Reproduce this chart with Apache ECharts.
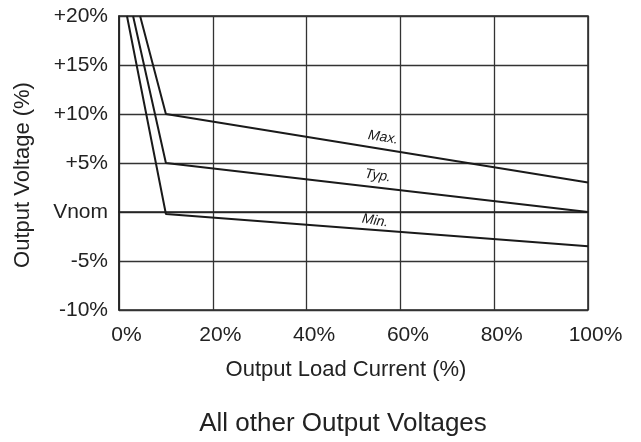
<!DOCTYPE html>
<html>
<head>
<meta charset="utf-8">
<script src="https://cdn.jsdelivr.net/npm/echarts@6/dist/echarts.min.js"></script>
<style>html,body{margin:0;padding:0;background:#fff}#c{width:641px;height:442px}</style>
</head>
<body>
<div id="c"></div>
<script>
// Data (x: output load current %, y: output voltage deviation %)
const maxLine = [[4.5, 20], [10, 10], [100, 3]];
const typLine = [[3, 20], [10, 5], [100, 0]];
const minLine = [[1.7, 20], [10, -0.2], [100, -3.5]];
// label anchors in data coordinates
const maxLabel = [56.3, 7.6];
const typLabel = [55.2, 3.7];
const minLabel = [54.6, -0.9];
const yTickText = {'20': '+20%', '15': '+15%', '10': '+10%', '5': '+5%', '0': 'Vnom', '-5': '-5%', '-10': '-10%'};
const xTickText = {'0': '0%', '20': '20%', '40': '40%', '60': '60%', '80': '80%', '100': '100%'};

const FONT = '"Liberation Sans", Arial, sans-serif';
const chart = echarts.init(document.getElementById('c'), null, {renderer: 'canvas'});

function lineSeries(name, data, lab) {
  return {
    name, type: 'line', data, symbol: 'none', z: 5,
    lineStyle: {color: '#1a1a1a', width: 2},
    markPoint: {
      symbol: 'circle', symbolSize: 0, silent: true,
      data: [{coord: lab, value: name}],
      label: {show: true, position: 'inside', formatter: name, rotate: -9,
        fontFamily: FONT, fontStyle: 'italic', fontSize: 14, color: '#1a1a1a'}
    }
  };
}

chart.setOption({
  animation: false,
  backgroundColor: '#fff',
  title: {
    text: 'All other Output Voltages', left: 338, top: 406, textAlign: 'center',
    textStyle: {fontFamily: FONT, fontSize: 26, fontWeight: 'normal', color: '#222'}
  },
  grid: {left: 119, right: 53, top: 16, bottom: 132, show: true, borderColor: '#222', borderWidth: 1.5},
  xAxis: {
    type: 'value', min: 0, max: 100, interval: 20,
    name: 'Output Load Current (%)', nameLocation: 'middle', nameGap: 49,
    nameTextStyle: {fontFamily: FONT, fontSize: 22, color: '#222', padding: [0, 15, 0, 0]},
    axisLine: {show: true, lineStyle: {color: '#222', width: 1.5}},
    axisTick: {show: false},
    axisLabel: {fontFamily: FONT, fontSize: 21, color: '#222', margin: 15,
      formatter: v => xTickText[String(v)], padding: [0, 0, 0, 15]},
    splitLine: {show: true, lineStyle: {color: '#333', width: 1.3}}
  },
  yAxis: {
    type: 'value', min: -10, max: 20, interval: 5,
    name: 'Output Voltage (%)', nameLocation: 'middle', nameGap: 85,
    nameTextStyle: {fontFamily: FONT, fontSize: 22, color: '#222', padding: [0, 0, 0, -24]},
    axisLine: {show: true, lineStyle: {color: '#222', width: 1.5}},
    axisTick: {show: false},
    axisLabel: {fontFamily: FONT, fontSize: 21, color: '#222', margin: 11,
      formatter: v => yTickText[String(v)]},
    splitLine: {show: true, lineStyle: {color: '#333', width: 1.3}}
  },
  series: [
    lineSeries('Max.', maxLine, maxLabel),
    lineSeries('Typ.', typLine, typLabel),
    lineSeries('Min.', minLine, minLabel)
  ]
});
</script>
</body>
</html>
